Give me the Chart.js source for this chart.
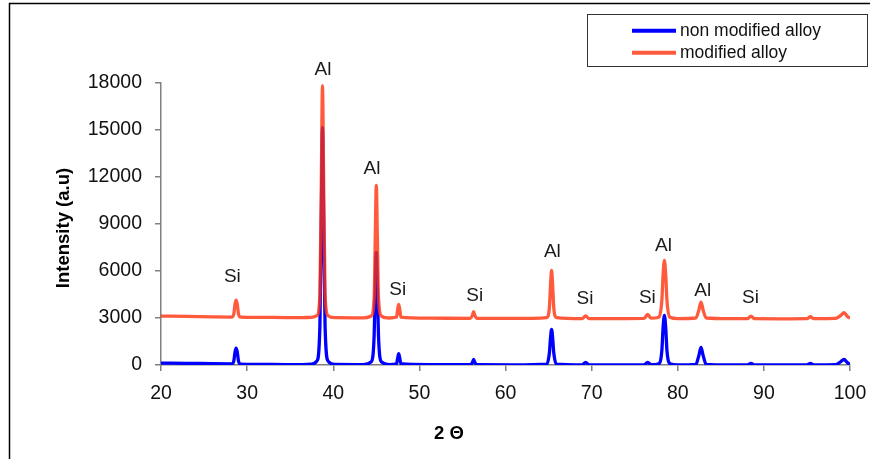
<!DOCTYPE html>
<html>
<head>
<meta charset="utf-8">
<script src="https://cdn.jsdelivr.net/npm/chart.js@4.4.1/dist/chart.umd.min.js"></script>
<style>
  html, body { margin: 0; padding: 0; background: #fff; }
  #wrap { width: 870px; height: 459px; position: relative; }
</style>
</head>
<body>
<div id="wrap"><canvas id="c" width="870" height="459"></canvas></div>
<script>
// 2θ positions (degrees)
const angles = [
  20, 23, 26, 28.2, 28.45, 28.6, 28.72, 28.85, 29.0, 29.25,
  33, 36, 37.5, 38.1, 38.45, 38.62, 38.75, 38.88, 39.05, 39.4,
  40.2, 43.5, 44.4, 44.75, 44.88, 45.0, 45.12, 45.25, 45.6,
  46.5, 47.35, 47.48, 47.6, 47.72, 47.85,
  51, 55.9, 56.15, 56.3, 56.45, 56.7,
  61, 64.8, 65.1, 65.22, 65.35, 65.48, 65.6, 65.9,
  68.9, 69.3, 69.7, 73, 76.1, 76.5, 76.9,
  77.8, 78.15, 78.3, 78.45, 78.6, 78.75, 79.1,
  80, 82.1, 82.45, 82.7, 82.95, 83.3,
  86, 88.1, 88.5, 88.9, 93, 95.0, 95.4, 95.8,
  98.3, 98.9, 99.3, 99.7, 100
];
// Intensity (a.u) – non modified alloy
const nonModified = [
  125, 110, 80, 70, 250, 850, 1080, 850, 250, 60,
  40, 20, 60, 250, 2500, 9500, 15170, 9500, 2500, 250,
  40, 30, 200, 1900, 5000, 7180, 5000, 1900, 200,
  30, 80, 450, 720, 450, 80,
  20, 20, 150, 360, 150, 20,
  10, 60, 800, 1700, 2280, 1700, 800, 60,
  10, 170, 10, 5, 10, 170, 20,
  80, 900, 2400, 3170, 2400, 900, 80,
  5, 40, 600, 1120, 600, 40,
  5, 5, 110, 5, 5, 5, 100, 5,
  20, 200, 355, 150, 40
];
// Intensity (a.u) – modified alloy
const modified = [
  3120, 3100, 3070, 3060, 3250, 3900, 4140, 3900, 3250, 3060,
  3040, 3020, 3040, 3150, 4500, 12000, 17830, 12000, 4500, 3150,
  3020, 3010, 3120, 4300, 8200, 11470, 8200, 4300, 3120,
  3000, 3060, 3550, 3870, 3550, 3060,
  2990, 2980, 3150, 3400, 3150, 2975,
  2970, 3030, 3700, 5000, 6040, 5000, 3700, 3030,
  2965, 3130, 2960, 2960, 2970, 3230, 2990,
  3050, 4100, 5800, 6670, 5800, 4100, 3050,
  2965, 3000, 3500, 4010, 3500, 3000,
  2955, 2960, 3125, 2960, 2950, 2955, 3080, 2955,
  2970, 3150, 3340, 3100, 2980
];
const seriesNames = ['non modified alloy', 'modified alloy'];
const xTicks = [20, 30, 40, 50, 60, 70, 80, 90, 100];
const yTicks = [0, 3000, 6000, 9000, 12000, 15000, 18000];
// Peak labels
const peakTexts  = ['Si', 'Al', 'Al', 'Si', 'Si', 'Al', 'Si', 'Si', 'Al', 'Al', 'Si'];
const peakAngles = [28.29, 38.8, 44.5, 47.48, 56.42, 65.44, 69.23, 76.47, 78.34, 82.91, 88.45];
const peakLevels = [5630, 18860, 12545, 4780, 4390, 7220, 4215, 4260, 7600, 4750, 4280];

const FONT = "'Liberation Sans', Arial, sans-serif";
const BLUE = 'rgb(0,0,255)';
const RED = 'rgba(255,49,11,0.8)';

const toPts = (ys) => angles.map((a, i) => ({ x: a, y: ys[i] }));

const decor = {
  id: 'decor',
  afterDraw(chart) {
    const ctx = chart.ctx;
    const xs = chart.scales.x, ys = chart.scales.y;
    ctx.save();
    // outer frame
    ctx.strokeStyle = '#000';
    ctx.lineWidth = 1.5;
    ctx.beginPath();
    ctx.moveTo(9.5, 459); ctx.lineTo(9.5, 3.5); ctx.lineTo(870, 3.5);
    ctx.stroke();
    // peak labels
    ctx.fillStyle = '#1a1a1a';
    ctx.font = '19px ' + FONT;
    ctx.textAlign = 'center';
    ctx.textBaseline = 'middle';
    peakTexts.forEach((t, i) => {
      ctx.fillText(t, xs.getPixelForValue(peakAngles[i]), ys.getPixelForValue(peakLevels[i]));
    });
    // axis titles
    ctx.fillStyle = '#000';
    ctx.font = 'bold 18.5px ' + FONT;
    ctx.fillText('2 Θ', 449, 434);
    ctx.save();
    ctx.translate(63.5, 228);
    ctx.rotate(-Math.PI / 2);
    ctx.fillText('Intensity (a.u)', 0, 0);
    ctx.restore();
    // legend
    ctx.strokeStyle = '#333';
    ctx.lineWidth = 1;
    ctx.strokeRect(587.5, 14.5, 280, 52);
    const rows = [30.7, 52.7];
    const cols = [BLUE, 'rgb(255,90,60)'];
    ctx.font = '17.5px ' + FONT;
    ctx.textAlign = 'left';
    ctx.fillStyle = '#111';
    rows.forEach((yy, i) => {
      ctx.strokeStyle = cols[i];
      ctx.lineWidth = 4;
      ctx.beginPath(); ctx.moveTo(632, yy); ctx.lineTo(676, yy); ctx.stroke();
      ctx.fillText(seriesNames[i], 680, yy);
    });
    ctx.restore();
  }
};

new Chart(document.getElementById('c'), {
  type: 'line',
  data: {
    datasets: [
      { label: seriesNames[1], data: toPts(modified), borderColor: RED, borderWidth: 3.3,
        pointRadius: 0, cubicInterpolationMode: 'monotone', order: 0 },
      { label: seriesNames[0], data: toPts(nonModified), borderColor: BLUE, borderWidth: 3.3,
        pointRadius: 0, cubicInterpolationMode: 'monotone', order: 1 }
    ]
  },
  options: {
    responsive: false,
    animation: false,
    devicePixelRatio: 1,
    layout: { padding: { top: 83, right: 20, left: 0, bottom: 0 } },
    plugins: { legend: { display: false }, tooltip: { enabled: false } },
    scales: {
      x: {
        type: 'linear', min: 20, max: 100,
        afterBuildTicks: (s) => { s.ticks = xTicks.map(v => ({ value: v })); },
        afterFit: (s) => { s.height = 94; s.paddingRight = 0; },
        grid: { drawOnChartArea: false, drawTicks: true, tickLength: 6, color: '#808080', lineWidth: 1.5 },
        border: { color: '#808080', width: 1.5 },
        ticks: { color: '#111', font: { family: FONT, size: 19.5 }, padding: 11, maxRotation: 0,
                 callback: (v) => String(v) }
      },
      y: {
        min: 0, max: 18000,
        afterBuildTicks: (s) => { s.ticks = yTicks.map(v => ({ value: v })); },
        afterFit: (s) => { s.width = 161; },
        grid: { drawOnChartArea: false, drawTicks: true, tickLength: 6, color: '#808080', lineWidth: 1.5 },
        border: { color: '#808080', width: 1.5 },
        ticks: { color: '#111', font: { family: FONT, size: 19.5 }, padding: 13,
                 callback: (v) => String(v) }
      }
    }
  },
  plugins: [decor]
});
</script>
</body>
</html>
